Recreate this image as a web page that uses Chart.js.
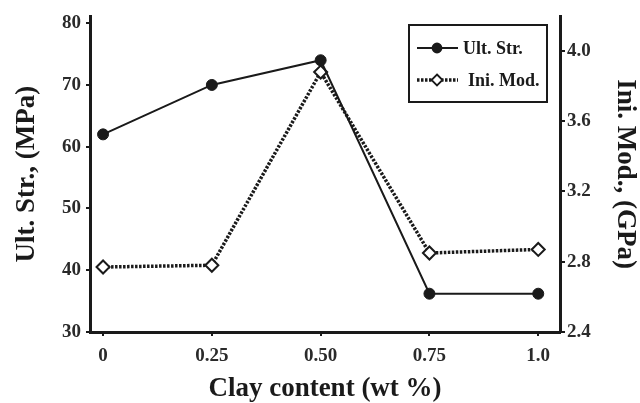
<!DOCTYPE html>
<html>
<head>
<meta charset="utf-8">
<script src="https://cdn.jsdelivr.net/npm/chart.js@4/dist/chart.umd.min.js"></script>
<style>
html,body{margin:0;padding:0;background:#fff;}
canvas{display:block;}
</style>
</head>
<body>
<canvas id="c" width="640" height="403"></canvas>
<script>
const clayContent = [0, 0.25, 0.50, 0.75, 1.0];
const xTickLabels = ['0', '0.25', '0.50', '0.75', '1.0'];
const ultStr = [62, 70, 74, 36.2, 36.2];
const iniMod = [2.77, 2.78, 3.88, 2.85, 2.87];
const leftTicks = [30, 40, 50, 60, 70, 80];
const rightTicks = [2.4, 2.6, 2.8, 3.0, 3.2, 3.4, 3.6, 3.8, 4.0];
const rightTickLabels = ['2.4', '', '2.8', '', '3.2', '', '3.6', '', '4.0'];
const seriesNames = ['Ult. Str.', 'Ini. Mod.'];

const FONT = "'Liberation Serif', 'Times New Roman', serif";
const INK = '#1a1a1a';
const TICKINK = '#2a2a2a';

const legendPlugin = {
  id: 'boxLegend',
  afterDraw(chart) {
    const ctx = chart.ctx;
    const x0 = 409, y0 = 25, w = 138, h = 77;
    ctx.save();
    ctx.fillStyle = '#fff';
    ctx.fillRect(x0, y0, w, h);
    ctx.strokeStyle = INK;
    ctx.lineWidth = 2;
    ctx.strokeRect(x0, y0, w, h);
    const rows = [48, 80];
    const textX = [463, 468];
    chart.data.datasets.forEach((ds, i) => {
      const y = rows[i];
      ctx.strokeStyle = INK;
      ctx.lineWidth = ds.borderWidth;
      ctx.setLineDash(ds.borderDash || []);
      ctx.beginPath();
      ctx.moveTo(417, y);
      ctx.lineTo(458, y);
      ctx.stroke();
      ctx.setLineDash([]);
      ctx.lineWidth = 1.8;
      ctx.fillStyle = ds.pointBackgroundColor;
      ctx.beginPath();
      if (ds.pointStyle === 'rectRot') {
        const r = 5.5;
        ctx.moveTo(437, y - r); ctx.lineTo(437 + r, y); ctx.lineTo(437, y + r); ctx.lineTo(437 - r, y); ctx.closePath();
      } else {
        ctx.arc(437, y, 4.5, 0, Math.PI * 2);
      }
      ctx.fill();
      ctx.stroke();
      ctx.fillStyle = INK;
      ctx.font = 'bold 18px ' + FONT;
      ctx.textBaseline = 'middle';
      ctx.textAlign = 'left';
      ctx.fillText(ds.label, textX[i], y + 1);
    });
    ctx.restore();
  }
};

new Chart(document.getElementById('c'), {
  type: 'line',
  data: {
    datasets: [
      {
        label: seriesNames[0],
        data: clayContent.map((x, i) => ({x: x, y: ultStr[i]})),
        yAxisID: 'y',
        borderColor: INK,
        borderWidth: 2,
        pointStyle: 'circle',
        pointRadius: 5.5,
        pointBackgroundColor: INK,
        pointBorderColor: INK,
        pointBorderWidth: 1,
        tension: 0
      },
      {
        label: seriesNames[1],
        data: clayContent.map((x, i) => ({x: x, y: iniMod[i]})),
        yAxisID: 'y2',
        borderColor: INK,
        borderWidth: 3.5,
        borderDash: [2.5, 1.5],
        pointStyle: 'rectRot',
        pointRadius: 6.5,
        pointBackgroundColor: '#fff',
        pointBorderColor: INK,
        pointBorderWidth: 2,
        tension: 0
      }
    ]
  },
  options: {
    responsive: false,
    animation: false,
    layout: {padding: {top: 13, left: 0, right: 0, bottom: 0}},
    plugins: {legend: {display: false}, tooltip: {enabled: false}},
    scales: {
      x: {
        type: 'linear',
        min: -0.03,
        max: 1.05,
        afterBuildTicks: s => { s.ticks = clayContent.map(v => ({value: v})); },
        afterFit: s => { s.height = 71; },
        ticks: {
          callback: (v) => { const i = clayContent.indexOf(v); return i >= 0 ? xTickLabels[i] : null; },
          font: {family: FONT, size: 19, weight: 'bold'},
          color: TICKINK,
          padding: 9,
          maxRotation: 0
        },
        grid: {display: true, drawOnChartArea: false, drawTicks: true, tickLength: 4, color: INK, lineWidth: 2},
        border: {display: true, color: INK, width: 3},
        title: {display: true, text: 'Clay content (wt %)', font: {family: FONT, size: 27, weight: 'bold', lineHeight: 1}, color: INK, padding: {top: 2, bottom: 0}}
      },
      y: {
        position: 'left',
        min: 30,
        max: 81.1,
        afterBuildTicks: s => { s.ticks = leftTicks.map(v => ({value: v})); },
        afterFit: s => { s.width = 90; },
        ticks: {
          callback: v => String(v),
          font: {family: FONT, size: 19, weight: 'bold'},
          color: TICKINK,
          padding: 5
        },
        grid: {display: true, drawOnChartArea: false, drawTicks: true, tickLength: 4, color: INK, lineWidth: 2},
        border: {display: true, color: INK, width: 3},
        title: {display: true, text: 'Ult. Str., (MPa)', font: {family: FONT, size: 27, weight: 'bold', lineHeight: 1}, color: INK, padding: {top: 14, bottom: 0}}
      },
      y2: {
        position: 'right',
        min: 2.4,
        max: 4.197,
        afterBuildTicks: s => { s.ticks = rightTicks.map(v => ({value: v})); },
        afterFit: s => { s.width = 80; },
        ticks: {
          callback: (v) => { const i = rightTicks.findIndex(t => Math.abs(t - v) < 1e-6); return i >= 0 && rightTickLabels[i] ? rightTickLabels[i] : null; },
          font: {family: FONT, size: 19, weight: 'bold'},
          color: TICKINK,
          padding: 2
        },
        grid: {display: true, drawOnChartArea: false, drawTicks: true, tickLength: 5, color: INK, lineWidth: 2},
        border: {display: true, color: INK, width: 3},
        title: {display: true, text: 'Ini. Mod., (GPa)', font: {family: FONT, size: 27, weight: 'bold', lineHeight: 1}, color: INK, padding: {top: 2, bottom: 0}}
      }
    }
  },
  plugins: [legendPlugin]
});
</script>
</body>
</html>
